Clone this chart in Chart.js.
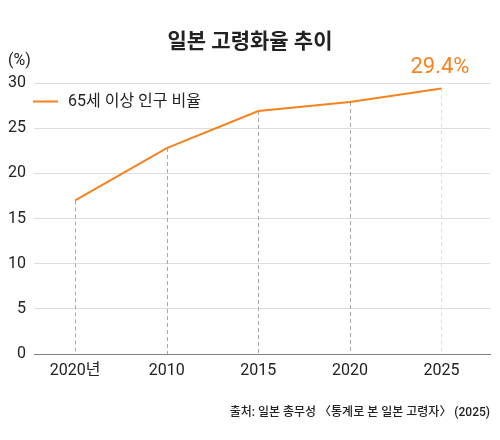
<!DOCTYPE html>
<html><head><meta charset="utf-8">
<script src="https://cdn.jsdelivr.net/npm/chart.js@4"></script>
<style>html,body{margin:0;padding:0;background:#fff}#wrap{width:500px;height:440px}</style>
</head><body><div id="wrap"><canvas id="c" width="500" height="440"></canvas></div>
<script>
const categories = ['2020년', '2010', '2015', '2020', '2025'];
const seriesLabel = '65세 이상 인구 비율';
const values = [17.0, 22.8, 26.9, 27.9, 29.4];
const yTicks = [0, 5, 10, 15, 20, 25, 30];
const titleText = '일본 고령화율 추이';
const unitText = '(%)';
const calloutText = '29.4%';
const sourceText = '출처: 일본 총무성 〈통계로 본 일본 고령자〉 (2025)';

const ORANGE = '#F5821F';
const FONT = 'Roboto, "Noto Sans CJK KR", sans-serif';

const overlay = {
  id: 'overlay',
  beforeDatasetsDraw(chart) {
    const ctx = chart.ctx, xs = chart.scales.x, ys = chart.scales.y;
    const base = ys.getPixelForValue(0);
    ctx.save();
    ctx.lineWidth = 1;
    ctx.setLineDash([4, 3]);
    values.forEach((v, i) => {
      const px = Math.round(xs.getPixelForValue(i)) + 0.5;
      ctx.strokeStyle = i === values.length - 1 ? '#dddddd' : '#a8a8a8';
      ctx.beginPath();
      ctx.moveTo(px, ys.getPixelForValue(v));
      ctx.lineTo(px, base);
      ctx.stroke();
    });
    ctx.restore();
  },
  afterDraw(chart) {
    const ctx = chart.ctx, xs = chart.scales.x, ys = chart.scales.y;
    ctx.save();
    ctx.textBaseline = 'middle';
    // title
    ctx.fillStyle = '#222';
    ctx.font = 'bold 21px ' + FONT;
    ctx.textAlign = 'center';
    ctx.fillText(titleText, 250, 43);
    // unit
    ctx.font = '16px ' + FONT;
    ctx.textAlign = 'left';
    ctx.fillText(unitText, 8, 61);
    // legend
    ctx.strokeStyle = ORANGE;
    ctx.lineWidth = 2;
    ctx.beginPath();
    ctx.moveTo(33, 101.5);
    ctx.lineTo(58, 101.5);
    ctx.stroke();
    ctx.fillStyle = '#222';
    ctx.font = '16px ' + FONT;
    ctx.fillText(chart.data.datasets[0].label, 68, 101.5);
    // callout
    const last = values.length - 1;
    ctx.fillStyle = ORANGE;
    ctx.font = '22px ' + FONT;
    ctx.textAlign = 'center';
    ctx.fillText(calloutText, xs.getPixelForValue(last) - 1.5, ys.getPixelForValue(values[last]) - 21);
    // source
    ctx.fillStyle = '#222';
    ctx.font = '500 12px ' + FONT;
    ctx.textAlign = 'right';
    ctx.fillText(sourceText, 490, 413);
    ctx.restore();
  }
};

new Chart(document.getElementById('c'), {
  type: 'line',
  data: {
    datasets: [{
      label: seriesLabel,
      data: values.map((v, i) => ({ x: i, y: v })),
      borderColor: ORANGE,
      backgroundColor: ORANGE,
      borderWidth: 2,
      pointRadius: 0,
      tension: 0,
      fill: false
    }]
  },
  options: {
    responsive: false,
    animation: false,
    devicePixelRatio: 1,
    layout: { padding: { top: 83, right: 10, left: 0, bottom: 0 } },
    plugins: { legend: { display: false }, title: { display: false }, tooltip: { enabled: false } },
    scales: {
      x: {
        type: 'linear',
        min: -0.45,
        max: 4.53,
        afterFit(s) { s.height = 86; },
        afterBuildTicks(s) { s.ticks = categories.map((c, i) => ({ value: i })); },
        ticks: {
          stepSize: 1,
          includeBounds: false,
          autoSkip: false,
          maxRotation: 0,
          padding: 7,
          color: '#222',
          font: { family: FONT, size: 16 },
          callback: (v) => categories[v]
        },
        grid: { display: false, drawTicks: false },
        border: { display: true, color: '#808080', width: 1 }
      },
      y: {
        min: 0,
        max: 30,
        afterFit(s) { s.width = 34; },
        afterBuildTicks(s) { s.ticks = yTicks.map(v => ({ value: v })); },
        ticks: {
          padding: 8,
          color: '#222',
          font: { family: FONT, size: 16 }
        },
        grid: {
          color: (c) => c.tick && c.tick.value === 0 ? '#808080' : '#dddddd',
          drawTicks: false,
          lineWidth: 1
        },
        border: { display: false }
      }
    }
  },
  plugins: [overlay]
});
</script>
</body></html>
